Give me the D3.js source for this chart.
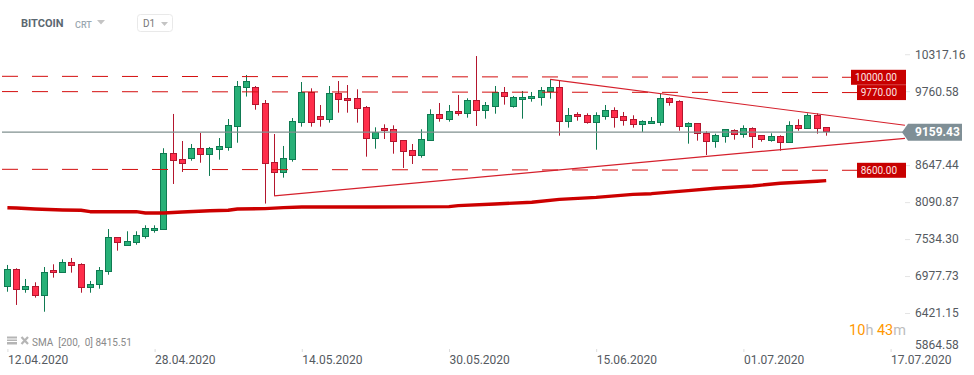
<!DOCTYPE html>
<html>
<head>
<meta charset="utf-8">
<script src="https://cdnjs.cloudflare.com/ajax/libs/d3/7.8.5/d3.min.js"></script>
<style>
html,body{margin:0;padding:0;background:#fff;overflow:hidden}
text{font-family:Roboto,sans-serif}
</style>
</head>
<body>
<svg id="c" width="974" height="375"></svg>
<script>
const opens=[6833,7095,6788,6839,6698,7079,7044,7200,7170,6818,6863,7058,7577,7450,7495,7586,7676,7697,8841,8750,8760,8917,8820,8895,8926,9242,9828,9834,9594,8706,8550,8745,9302,9759,9398,9347,9744,9668,9668,9533,9061,9217,9202,9036,8886,8805,9031,9428,9347,9473,9437,9639,9483,9543,9759,9543,9648,9663,9678,9769,9834,9317,9428,9413,9302,9392,9488,9398,9353,9272,9287,9308,9669,9624,9242,9292,9142,9016,9091,9187,9121,9217,9112,9031,9097,9001,9262,9217,9413,9232];
const highs=[7160,7110,6949,6899,7129,7170,7245,7265,7185,6919,7129,7701,7577,7667,7667,7757,7757,8917,9433,9026,8981,9147,8936,9071,9357,9929,10020,9854,9643,9131,8951,9372,9914,9819,9568,9854,9929,9869,9804,9553,9232,9277,9262,9036,8981,9202,9503,9598,9568,9719,9669,10305,9613,9854,9839,9704,9779,9764,9839,9955,9944,9523,9458,9443,9458,9568,9533,9463,9413,9338,9387,9744,9684,9639,9308,9292,9172,9136,9202,9202,9262,9232,9112,9142,9112,9323,9353,9443,9443,9232];
const lows=[6757,6558,6742,6668,6456,6969,7044,7044,6742,6742,6803,7013,7375,7450,7465,7556,7646,7697,8379,8560,8729,8699,8500,8745,8880,9000,9695,9497,8084,8199,8474,8715,9242,9242,9242,9302,9452,9452,9302,8790,8910,9056,8835,8620,8680,8775,9031,9317,9317,9407,9377,9252,9362,9437,9573,9528,9362,9618,9558,9663,9106,9227,9332,9287,8895,9347,9227,9257,9227,9162,9287,9257,9558,9181,8986,9031,8815,8925,9001,9046,9076,8921,9016,9016,8880,9001,9181,9217,9136,9106];
const closes=[7095,6788,6839,6698,7049,7044,7200,7149,6818,6869,7079,7577,7495,7516,7606,7712,7712,8841,8729,8690,8917,8820,8917,8946,9262,9850,9925,9578,8685,8550,8766,9323,9759,9302,9347,9744,9648,9633,9513,9061,9147,9182,9015,8865,8805,9051,9428,9362,9473,9443,9639,9483,9563,9759,9693,9683,9683,9699,9789,9834,9317,9413,9392,9302,9413,9488,9377,9332,9272,9322,9327,9669,9609,9242,9292,9136,9016,9112,9202,9121,9217,9091,9046,9097,9001,9262,9217,9413,9217,9167];

const smaDays=[0,1,3,6,8,9,14,15,17,19,22,24,25,28,30,32,40,48,49,53,57,60,64,68,70,74,77,81,84,88,89];
const smaValues=[8022,8018,8003,7988,7983,7962,7962,7942,7942,7957,7977,7983,8003,8008,8023,8033,8033,8038,8053,8078,8103,8148,8178,8223,8233,8279,8315,8349,8390,8420,8429];

const priceTicks=[10317.16,9760.58,8647.44,8090.87,7534.30,6977.73,6421.15,5864.58];
const priceTickLabels=["10317.16","9760.58","8647.44","8090.87","7534.30","6977.73","6421.15","5864.58"];
const dateTicks=["2020-04-12","2020-04-28","2020-05-14","2020-05-30","2020-06-15","2020-07-01","2020-07-17"];
const dateLabels=["12.04.2020","28.04.2020","14.05.2020","30.05.2020","15.06.2020","01.07.2020","17.07.2020"];

const levelLabels=["10000.00","9770.00","8600.00"];
const levelStart=[10000,9770,8600];
const levelEnd=[9985,9755,8585];
const currentPrice=9159.43;
const lowerTrendDays=[29,97.56], lowerTrendPrices=[8199,9067];
const upperTrendDays=[59,97.56], upperTrendPrices=[9955,9263];

const DAY=864e5, t0=Date.UTC(2020,3,12);
const svg=d3.select("#c");
const x=d3.scaleUtc().domain([new Date(t0),new Date(Date.UTC(2020,6,17))]).range([7.4,890.6]);
const xd=i=>x(new Date(t0+i*DAY));
const y=d3.scaleLinear().domain([10000,8600]).range([76.3,169.3]);
const snap=v=>Math.round(v-.5)+.5;

/* candles */
const GREEN="#27b077",GREEN_D="#0f7a52",RED="#ff2e4b",RED_D="#b3162e";
const candles=svg.append("g").selectAll("g").data(opens.map((o,i)=>({i,o,h:highs[i],l:lows[i],c:closes[i]}))).join("g");
candles.append("line")
 .attr("x1",d=>snap(xd(d.i))).attr("x2",d=>snap(xd(d.i)))
 .attr("y1",d=>y(d.h)).attr("y2",d=>y(d.l))
 .attr("stroke",d=>d.c>=d.o?GREEN_D:RED_D);
candles.append("rect")
 .attr("x",d=>snap(xd(d.i))-3).attr("width",6)
 .attr("y",d=>snap(y(Math.max(d.o,d.c))))
 .attr("height",d=>Math.max(1,snap(y(Math.min(d.o,d.c)))-snap(y(Math.max(d.o,d.c)))))
 .attr("fill",d=>d.c>=d.o?GREEN:RED).attr("stroke",d=>d.c>=d.o?GREEN_D:RED_D);

/* dashed horizontal levels */
svg.append("g").selectAll("line").data(levelStart).join("line")
 .attr("x1",2).attr("x2",857)
 .attr("y1",d=>y(d)).attr("y2",(d,i)=>y(levelEnd[i]))
 .attr("stroke","#d40f0f").attr("stroke-width",1).attr("stroke-dasharray","16 14");

/* current price line */
svg.append("line").attr("x1",2).attr("x2",905).attr("y1",y(currentPrice)).attr("y2",y(currentPrice))
 .attr("stroke","#80908f").attr("stroke-width",1.3);

/* trend lines */
const lineGen=d3.line().x(d=>xd(d[0])).y(d=>y(d[1]));
[[lowerTrendDays,lowerTrendPrices],[upperTrendDays,upperTrendPrices]].forEach(([a,b])=>{
 svg.append("path").attr("d",lineGen(a.map((v,i)=>[v,b[i]])))
  .attr("fill","none").attr("stroke","#d5202c").attr("stroke-width",1.2);
});

/* SMA */
svg.append("path").attr("d",lineGen(smaDays.map((v,i)=>[v,smaValues[i]])))
 .attr("fill","none").attr("stroke","#cc0000").attr("stroke-width",3.4).attr("stroke-linejoin","round");

/* right axis */
const yAxis=d3.axisRight(y).tickValues(priceTicks)
 .tickSize(5).tickPadding(5).tickFormat(d=>priceTickLabels[priceTicks.indexOf(d)]);
const gy=svg.append("g").attr("transform","translate(905,-1)").call(yAxis);
gy.select(".domain").remove();
gy.selectAll(".tick line").attr("stroke","#e4e4e4");
gy.selectAll(".tick text").attr("fill","#555a5f").attr("font-size",12).attr("font-family","Roboto");
gy.selectAll(".tick").filter(d=>d===5864.58).each(function(){
 d3.select(this).select("line").remove();
 d3.select(this).select("text").attr("x",10).attr("y",-5);
});

/* bottom axis */
const xAxis=d3.axisBottom(x).tickValues(dateTicks.map(d=>new Date(d+"T00:00:00Z")))
 .tickSize(3).tickPadding(3).tickFormat((d,i)=>dateLabels[i]);
const gx=svg.append("g").attr("transform","translate(0,349)").call(xAxis);
gx.select(".domain").remove();
gx.selectAll(".tick line").attr("stroke","#dcdcdc");
gx.selectAll(".tick text").attr("fill","#555a5f").attr("font-size",12).attr("font-family","Roboto").attr("text-anchor","start");

/* level labels */
const levelG=svg.append("g").selectAll("g").data(levelEnd).join("g");
levelG.append("rect")
 .attr("x",(d,i)=>i===0?851:857).attr("width",(d,i)=>i===0?55:49)
 .attr("y",d=>y(d)-7.5).attr("height",15).attr("fill","#c80000");
levelG.append("text").attr("x",897).attr("y",d=>y(d)+.2).attr("dy","0.35em")
 .attr("text-anchor","end").attr("font-size",10).attr("fill","#fde4e4").text((d,i)=>levelLabels[i]);

/* current price flag */
const cy=y(currentPrice);
svg.append("path").attr("d",`M902,${cy}L908,${cy-8.3}L962,${cy-8.3}L962,${cy+8.5}L908,${cy+8.5}Z`).attr("fill","#7f8f96");
svg.append("text").attr("x",915).attr("y",cy).attr("dy","0.36em").attr("font-size",12).attr("font-weight",700)
 .attr("fill","#fff").text(d3.format(".2f")(currentPrice));

/* header */
svg.append("text").attr("x",21).attr("y",27).attr("font-size",11).attr("font-weight",700).attr("fill","#5b6770").text("BITCOIN");
svg.append("text").attr("x",75).attr("y",27.5).attr("font-size",9).attr("font-weight",500).attr("fill","#9aa8b0").text("CRT");
svg.append("path").attr("d","M97,20L105,20L101,24.5Z").attr("fill","#c4c4c4");
svg.append("rect").attr("x",137.5).attr("y",14.5).attr("width",35).attr("height",17).attr("rx",3).attr("fill","#fff").attr("stroke","#e9e9e9");
svg.append("text").attr("x",143).attr("y",27).attr("font-size",10).attr("fill","#777").text("D1");
svg.append("path").attr("d","M161,22L168,22L164.5,26Z").attr("fill","#c4c4c4");

/* SMA legend */
svg.append("path").attr("d","M7,336.5h10v2h-10zM7,339.5h10v1.5h-10zM7,342h10v2.5h-10z").attr("fill","#b5b5b5");
svg.append("path").attr("d","M21.5,337L28,344M28,337L21.5,344").attr("stroke","#b5b5b5").attr("stroke-width",2.2);
svg.append("text").attr("x",32).attr("y",346).attr("font-size",10).attr("fill","#8a8a8a").text("SMA\u00a0\u00a0[200,\u00a0\u00a00]\u00a08415.51");

/* countdown */
const cd=svg.append("text").attr("x",906).attr("y",335).attr("text-anchor","end").attr("font-size",14.5);
cd.append("tspan").attr("fill","#ff9800").text("10");
cd.append("tspan").attr("fill","#bdbdbd").text("h\u00a0");
cd.append("tspan").attr("fill","#ff9800").text("43");
cd.append("tspan").attr("fill","#bdbdbd").text("m");
</script>
</body>
</html>
